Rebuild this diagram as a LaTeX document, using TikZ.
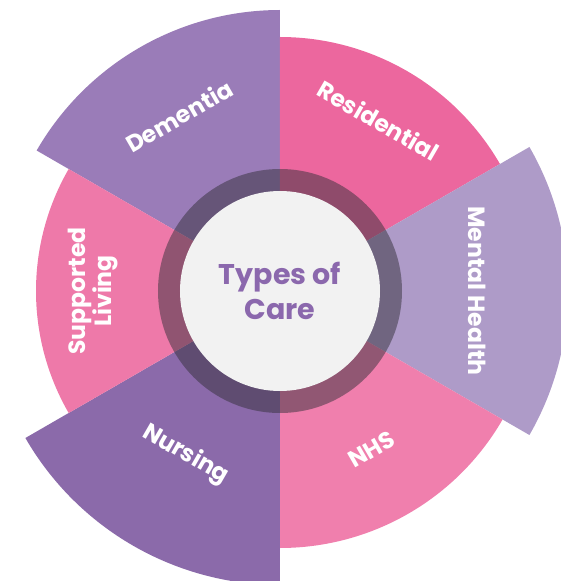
\documentclass[tikz,border=0pt]{standalone}
\usepackage{fontspec}
\setmainfont{Poppins}
\definecolor{cdem}{HTML}{9A7CB8}
\definecolor{cres}{HTML}{EC679E}
\definecolor{cmh}{HTML}{AE9BC8}
\definecolor{cnhs}{HTML}{F07FAD}
\definecolor{cnur}{HTML}{8B6AAA}
\definecolor{csl}{HTML}{EE79A9}
\definecolor{cring}{HTML}{34303A}
\definecolor{ccenter}{HTML}{F2F2F2}
\definecolor{ctitle}{HTML}{8B68AD}
\begin{document}
\begin{tikzpicture}[x=1pt,y=1pt,
  lbl/.style={text=white,font=\fontsize{23.5}{26}\selectfont\bfseries,align=center,inner sep=0pt}]
\useasboundingbox (-280,-290) rectangle (281,291);
\clip (-280,-290) rectangle (281,291);
% sectors
\fill[cdem] (0,0) -- (90:281) arc[start angle=90,end angle=150,radius=281] -- cycle;
\fill[cres] (0,0) -- (30:254) arc[start angle=30,end angle=90,radius=254] -- cycle;
\fill[cmh] (0,0) -- (-30:288) arc[start angle=-30,end angle=30,radius=288] -- cycle;
\fill[cnhs] (0,0) -- (-90:257) arc[start angle=-90,end angle=-30,radius=257] -- cycle;
\fill[cnur] (0,0) -- (210:294) arc[start angle=210,end angle=270,radius=294] -- cycle;
\fill[csl] (0,0) -- (150:244) arc[start angle=150,end angle=210,radius=244] -- cycle;
% ring and centre
\fill[cring,fill opacity=0.5] (0,0) circle[radius=122];
\fill[ccenter] (0,0) circle[radius=100];
\node (title) [text=ctitle,font=\fontsize{28.5}{35}\selectfont\bfseries,align=center,inner sep=0pt] at (0,0) {Types of\\Care};
% labels
\node (dem) [lbl,rotate=30] at (120:202) {Dementia};
\node (res) [lbl,rotate=-30] at (60:197) {Residential};
\node (mh) [lbl,rotate=-90] at (0:197) {Mental Health};
\node (nhs) [lbl,rotate=30] at (-60:183) {NHS};
\node (nur) [lbl,rotate=-30] at (-120:189) {Nursing};
\node (sl) [lbl,rotate=90] at (180:187) {Supported\\Living};
\end{tikzpicture}
\end{document}
